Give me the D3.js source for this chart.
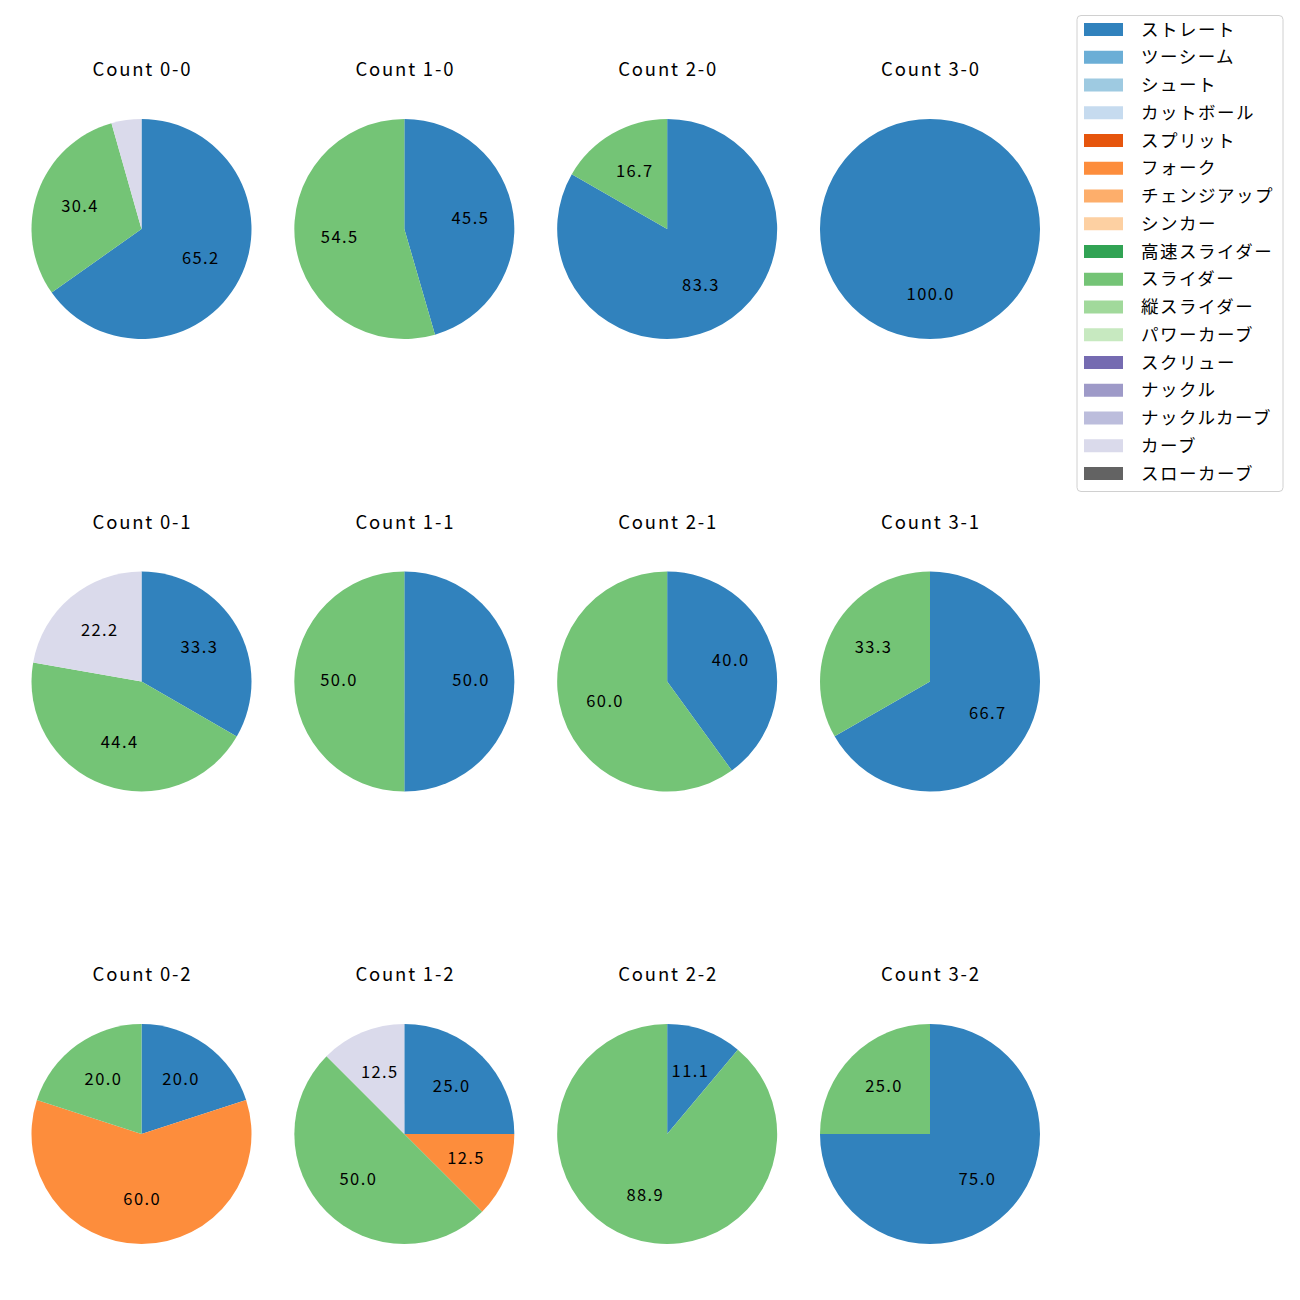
<!DOCTYPE html>
<html><head><meta charset="utf-8">
<script src="https://cdn.jsdelivr.net/npm/d3@7"></script>
<style>body{margin:0;background:#fff}svg{display:block}text{font-family:"Noto Sans CJK JP","Noto Sans",sans-serif}</style>
</head><body><svg id="c" width="1300" height="1300"></svg>
<script>
const pitchTypes = ["ストレート","ツーシーム","シュート","カットボール","スプリット","フォーク","チェンジアップ","シンカー","高速スライダー","スライダー","縦スライダー","パワーカーブ","スクリュー","ナックル","ナックルカーブ","カーブ","スローカーブ"];
const pitchColors = ["#3182bd","#6baed6","#9ecae1","#c6dbef","#e6550d","#fd8d3c","#fdae6b","#fdd0a2","#31a354","#74c476","#a1d99b","#c7e9c0","#756bb1","#9e9ac8","#bcbddc","#dadaeb","#636363"];
const counts = ["0-0","1-0","2-0","3-0","0-1","1-1","2-1","3-1","0-2","1-2","2-2","3-2"];
// percentages per count: [pitch type, value]
const c00 = [["ストレート",65.2],["スライダー",30.4],["カーブ",4.4]];
const c10 = [["ストレート",45.5],["スライダー",54.5]];
const c20 = [["ストレート",83.3],["スライダー",16.7]];
const c30 = [["ストレート",100.0]];
const c01 = [["ストレート",33.3],["スライダー",44.4],["カーブ",22.2]];
const c11 = [["ストレート",50.0],["スライダー",50.0]];
const c21 = [["ストレート",40.0],["スライダー",60.0]];
const c31 = [["ストレート",66.7],["スライダー",33.3]];
const c02 = [["ストレート",20.0],["フォーク",60.0],["スライダー",20.0]];
const c12 = [["ストレート",25.0],["フォーク",12.5],["スライダー",50.0],["カーブ",12.5]];
const c22 = [["ストレート",11.1],["スライダー",88.9]];
const c32 = [["ストレート",75.0],["スライダー",25.0]];
const countData = [c00,c10,c20,c30,c01,c11,c21,c31,c02,c12,c22,c32];

const svg = d3.select("#c");
const color = d3.scaleOrdinal().domain(pitchTypes).range(pitchColors);
const colX = d3.scalePoint().domain([0,1,2,3]).range([141.5,930]);
const rowY = d3.scalePoint().domain([0,1,2]).range([229,1134]);
const R = 110;
const pie = d3.pie().sort(null).value(d=>d[1]).startAngle(0).endAngle(2*Math.PI);
const arc = d3.arc().innerRadius(0).outerRadius(R);
const labelArc = d3.arc().innerRadius(R*0.6).outerRadius(R*0.6);

countData.forEach((data,i)=>{
  const col = i%4, row = Math.floor(i/4);
  const g = svg.append("g").attr("transform",`translate(${colX(col)},${rowY(row)})`);
  const arcs = pie(data);
  g.selectAll("path").data(arcs).join("path")
    .attr("d",arc).attr("fill",d=>color(d.data[0]));
  g.selectAll("text.pct").data(arcs.filter(d=>d.data[1]>=5)).join("text")
    .attr("class","pct")
    .attr("transform",d=>{const c=labelArc.centroid(d);return `translate(${c[0]+0.7},${c[1]-1})`;})
    .attr("text-anchor","middle").attr("dy","0.35em")
    .attr("font-size",16.5).attr("letter-spacing",1.4).attr("fill","#000")
    .text(d=>d.data[1].toFixed(1));
  g.append("text").attr("x",1).attr("y",-153).attr("text-anchor","middle")
    .attr("font-size",18.5).attr("letter-spacing",1.8)
    .attr("fill","#000").text("Count "+counts[i]);
});

// legend
const lg = svg.append("g");
lg.append("rect").attr("x",1077).attr("y",15.5).attr("width",206).attr("height",476)
  .attr("rx",4).attr("fill","#fff").attr("stroke","#d0d0d0").attr("stroke-width",1);
const ly = d3.scalePoint().domain(pitchTypes).range([29.5,473.5]);
pitchTypes.forEach(p=>{
  lg.append("rect").attr("x",1084).attr("y",ly(p)-6.5).attr("width",39).attr("height",13).attr("fill",color(p));
  lg.append("text").attr("x",1141).attr("y",ly(p)).attr("dy","0.35em").attr("font-size",17.5)
    .attr("letter-spacing",1.5).attr("fill","#000").text(p);
});
</script></body></html>
